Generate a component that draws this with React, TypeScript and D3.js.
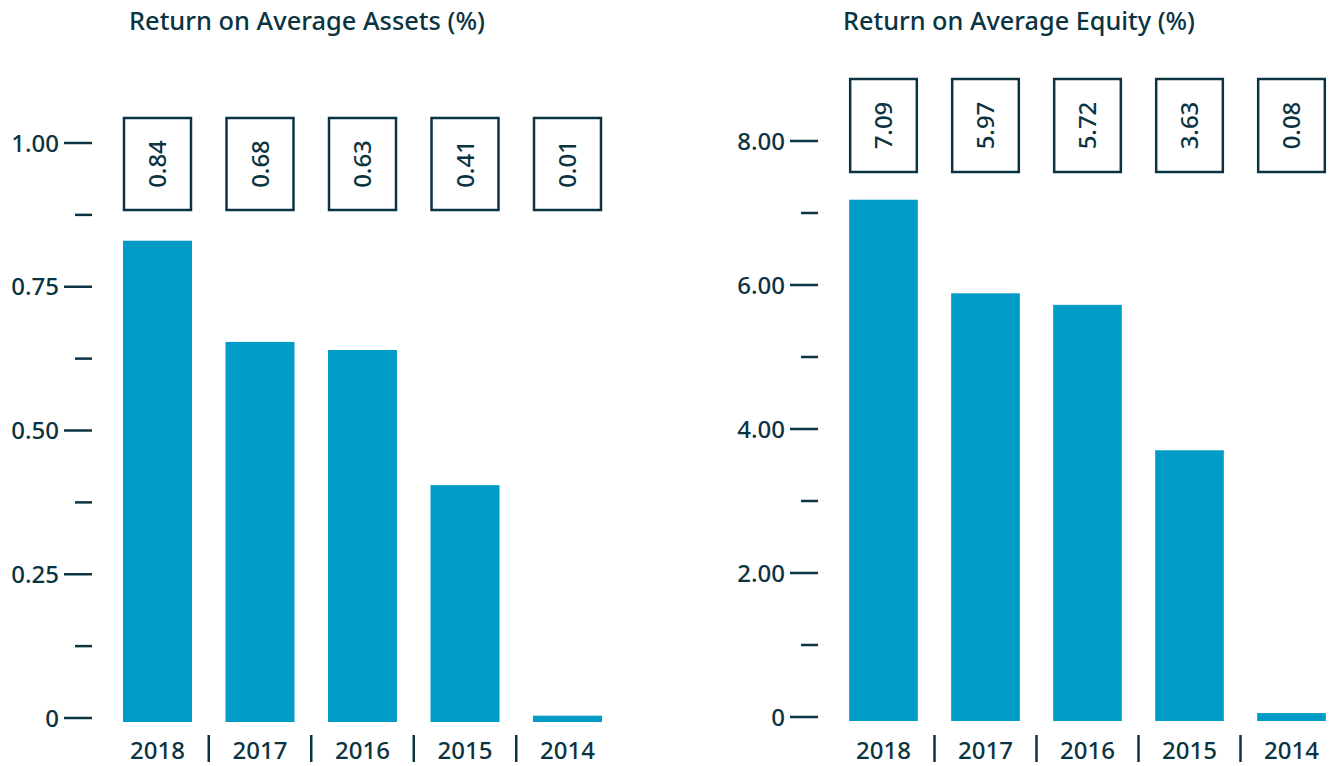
import React from "react";
import * as d3 from "d3";

const years = ["2018", "2017", "2016", "2015", "2014"];

// Return on Average Assets (%)
const assetsBars = [0.837, 0.661, 0.647, 0.412, 0.011];
const assetsLabels = ["0.84", "0.68", "0.63", "0.41", "0.01"];
const assetsMajorTicks = [0, 0.25, 0.5, 0.75, 1.0];
const assetsMinorTicks = [0.125, 0.375, 0.625, 0.875];

// Return on Average Equity (%)
const equityBars = [7.24, 5.94, 5.78, 3.76, 0.11];
const equityLabels = ["7.09", "5.97", "5.72", "3.63", "0.08"];
const equityMajorTicks = [0, 2, 4, 6, 8];
const equityMinorTicks = [1, 3, 5, 7];

const DARK = "#0b3442";
const BLUE = "#009bc7";
const FONT = "'Noto Sans', sans-serif";
const WEIGHT = 500;

type PanelProps = {
  title: string;
  titleX: number;
  titleW: number;
  bars: number[];
  labels: string[];
  major: number[];
  minor: number[];
  yMax: number;
  yTop: number;
  yZero: number;
  xRange: [number, number];
  axisX: number;
  boxTop: number;
  boxBottom: number;
};

function Panel(p: PanelProps) {
  const y = d3.scaleLinear().domain([0, p.yMax]).range([p.yZero, p.yTop]);
  const x = d3
    .scaleBand<string>()
    .domain(years)
    .range(p.xRange)
    .paddingInner(0.327)
    .paddingOuter(0.1635);
  const bw = x.bandwidth();
  const step = x.step();
  const shift = 4;
  const fmt = (v: number) => (v === 0 ? "0" : v.toFixed(2));
  return (
    <g>
      <text
        x={p.titleX}
        y={30}
        fontSize={26}
        fontWeight={WEIGHT}
        fill={DARK}
        fontFamily={FONT}
        textLength={p.titleW}
        lengthAdjust="spacingAndGlyphs"
      >
        {p.title}
      </text>
      {p.major.map((t) => (
        <g key={"M" + t}>
          <line x1={p.axisX - 28} x2={p.axisX} y1={y(t)} y2={y(t)} stroke={DARK} strokeWidth={2.5} />
          <text
            x={p.axisX - 33}
            y={y(t)}
            dy="0.36em"
            textAnchor="end"
            fontSize={24}
            fontWeight={WEIGHT}
            fill={DARK}
            fontFamily={FONT}
          >
            {fmt(t)}
          </text>
        </g>
      ))}
      {p.minor.map((t) => (
        <line key={"m" + t} x1={p.axisX - 17} x2={p.axisX} y1={y(t)} y2={y(t)} stroke={DARK} strokeWidth={2.5} />
      ))}
      {years.map((yr, i) => {
        const bx = x(yr)!;
        const cx = bx + bw / 2;
        const cy = (p.boxTop + p.boxBottom) / 2;
        return (
          <g key={yr}>
            <rect
              x={bx}
              width={bw}
              y={y(p.bars[i]) + shift}
              height={y(0) - y(p.bars[i])}
              fill={BLUE}
            />
            <rect
              x={bx + 1}
              width={bw - 2}
              y={p.boxTop + 1}
              height={p.boxBottom - p.boxTop - 2}
              fill="none"
              stroke={DARK}
              strokeWidth={2.5}
            />
            <text
              transform={`translate(${cx},${cy}) rotate(-90)`}
              textAnchor="middle"
              dy="0.36em"
              fontSize={24}
              fontWeight={WEIGHT}
              fill={DARK}
              fontFamily={FONT}
            >
              {p.labels[i]}
            </text>
            <text
              x={cx}
              y={759}
              textAnchor="middle"
              fontSize={24}
              fontWeight={WEIGHT}
              fill={DARK}
              fontFamily={FONT}
            >
              {yr}
            </text>
            {i > 0 && (
              <line
                x1={bx - (step - bw) / 2}
                x2={bx - (step - bw) / 2}
                y1={735}
                y2={762}
                stroke={DARK}
                strokeWidth={2.5}
              />
            )}
          </g>
        );
      })}
    </g>
  );
}

export default function App() {
  return (
    <svg
      width={1339}
      height={766}
      style={{ position: "absolute", left: 0, top: 0, background: "#fff" }}
    >
      <Panel
        title="Return on Average Assets (%)"
        titleX={129}
        titleW={356}
        bars={assetsBars}
        labels={assetsLabels}
        major={assetsMajorTicks}
        minor={assetsMinorTicks}
        yMax={1.0}
        yTop={143}
        yZero={718}
        xRange={[106.25, 618.75]}
        axisX={92}
        boxTop={117}
        boxBottom={211}
      />
      <Panel
        title="Return on Average Equity (%)"
        titleX={843}
        titleW={352}
        bars={equityBars}
        labels={equityLabels}
        major={equityMajorTicks}
        minor={equityMinorTicks}
        yMax={8}
        yTop={141}
        yZero={717}
        xRange={[832.5, 1342.5]}
        axisX={818}
        boxTop={78}
        boxBottom={173}
      />
    </svg>
  );
}
